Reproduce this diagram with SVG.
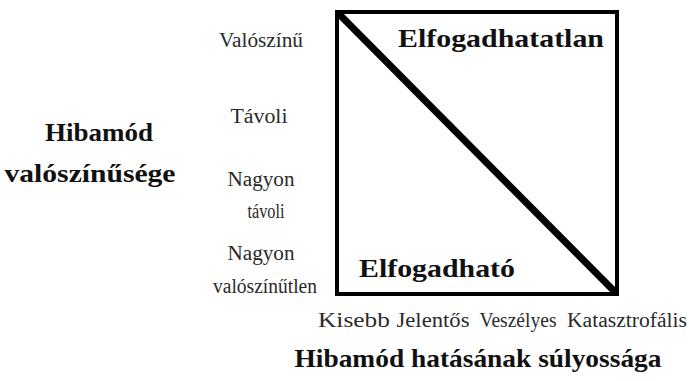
<svg xmlns="http://www.w3.org/2000/svg" width="689" height="381" viewBox="0 0 689 381">
<style>
.r{font-family:"Liberation Serif","Times New Roman",serif;font-size:20px;fill:#2a2a2a;text-anchor:middle}
.b{font-family:"Liberation Serif","Times New Roman",serif;font-size:26px;font-weight:bold;fill:#111}
.bc{text-anchor:middle}
</style>
<rect width="689" height="381" fill="#fff"/>
<g id="matrix">
<rect x="337" y="12" width="280" height="282" fill="none" stroke="#000" stroke-width="4"/>
</g>
<g id="connectors">
<line x1="339" y1="14" x2="615" y2="292" stroke="#000" stroke-width="7"/>
</g>
<g id="unacceptable"><text class="b" x="398" y="47" textLength="206" lengthAdjust="spacingAndGlyphs">Elfogadhatatlan</text></g>
<g id="acceptable"><text class="b" x="359" y="277" textLength="156" lengthAdjust="spacingAndGlyphs">Elfogadható</text></g>
<g id="y-labels">
<text class="r" x="261" y="47" textLength="84" lengthAdjust="spacingAndGlyphs">Valószínű</text>
<text class="r" x="259" y="123" textLength="57" lengthAdjust="spacingAndGlyphs">Távoli</text>
<text class="r" x="261" y="186" textLength="67" lengthAdjust="spacingAndGlyphs">Nagyon</text>
<text class="r" x="266" y="218" textLength="37" lengthAdjust="spacingAndGlyphs">távoli</text>
<text class="r" x="261" y="260" textLength="67" lengthAdjust="spacingAndGlyphs">Nagyon</text>
<text class="r" x="265" y="293" textLength="104" lengthAdjust="spacingAndGlyphs">valószínűtlen</text>
</g>
<g id="y-title">
<text class="b bc" x="99" y="141" textLength="108" lengthAdjust="spacingAndGlyphs">Hibamód</text>
<text class="b bc" x="90" y="182" textLength="171" lengthAdjust="spacingAndGlyphs">valószínűsége</text>
</g>
<g id="x-labels">
<text class="r" x="354" y="327" textLength="72" lengthAdjust="spacingAndGlyphs">Kisebb</text>
<text class="r" x="433" y="327" textLength="73" lengthAdjust="spacingAndGlyphs">Jelentős</text>
<text class="r" x="518" y="327" textLength="77" lengthAdjust="spacingAndGlyphs">Veszélyes</text>
<text class="r" x="627" y="327" textLength="120" lengthAdjust="spacingAndGlyphs">Katasztrofális</text>
</g>
<g id="x-title">
<text class="b bc" x="478" y="367" textLength="367" lengthAdjust="spacingAndGlyphs">Hibamód hatásának súlyossága</text>
</g>
</svg>
